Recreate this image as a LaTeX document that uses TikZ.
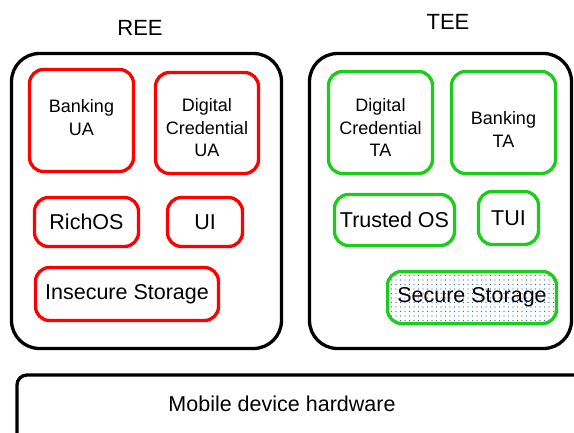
\documentclass[tikz,border=0pt]{standalone}
\usepackage{fontspec}
\setmainfont{Liberation Sans}
\usetikzlibrary{patterns.meta}
\definecolor{reered}{RGB}{255,0,0}
\definecolor{teegreen}{RGB}{25,205,25}
\definecolor{dotblue}{RGB}{40,100,180}
\begin{document}
\begin{tikzpicture}[x=1pt, y=-1pt,
    envbox/.style={draw=black, line width=3.3pt, rounded corners=28pt, inner sep=0pt},
    part/.style={line width=3.3pt, rounded corners=14pt, inner sep=0pt, align=center},
    reebox/.style={part, draw=reered},
    teebox/.style={part, draw=teegreen},
    small/.style={font=\fontsize{18}{22.5}\selectfont},
    big/.style={font=\fontsize{21.5}{25}\selectfont},
    inside/.style={small, align=center, yshift=#1}]
    \useasboundingbox (0, 0) rectangle (574, 433);
    \clip (0, 0) rectangle (574, 433);
    % environments
    \node[envbox, minimum width=270, minimum height=295] (ree) at (146.5, 201) {};
    \node[envbox, minimum width=262, minimum height=295] (tee) at (440.5, 201) {};
    \node[font=\fontsize{22}{26}\selectfont] (reelabel) at (140, 28) {REE};
    \node[font=\fontsize{22}{26}\selectfont] (teelabel) at (448, 22) {TEE};
    % REE side
    \node[reebox, minimum width=104, minimum height=102,
          label={[inside=3pt]center:Banking\\UA}] (bankua) at (81.5, 120.5) {};
    \node[reebox, minimum width=103, minimum height=101,
          label={[inside=-5pt]center:Digital\\Credential\\UA}] (dcua) at (207, 123) {};
    \node[reebox, big, minimum width=104, minimum height=49] (richos) at (86.5, 222) {RichOS};
    \node[reebox, big, minimum width=75, minimum height=49] (ui) at (205, 222) {UI};
    \node[reebox, big, minimum width=183, minimum height=53] (insecure) at (127, 294) {Insecure Storage};
    % TEE side
    \node[teebox, minimum width=104, minimum height=102,
          label={[inside=-5pt]center:Digital\\Credential\\TA}] (dcta) at (380.5, 122.5) {};
    \node[teebox, minimum width=104, minimum height=102,
          label={[inside=-7pt]center:Banking\\TA}] (bankta) at (503.5, 122.5) {};
    \node[teebox, big, minimum width=120, minimum height=51] (trustedos) at (394.5, 220) {Trusted OS};
    \node[teebox, big, minimum width=60, minimum height=53] (tui) at (508.5, 218) {TUI};
    \node[teebox, big, minimum width=169, minimum height=52,
          pattern={Dots[distance=4.5pt, radius=0.55pt]}, pattern color=dotblue] (secure) at (472, 297.5) {Secure Storage};
    % hardware
    \node[envbox, rounded corners=10pt, minimum width=600, minimum height=90] (hw) at (317, 420) {};
    \node[big] (hwlabel) at (282, 404) {Mobile device hardware};
\end{tikzpicture}
\end{document}
